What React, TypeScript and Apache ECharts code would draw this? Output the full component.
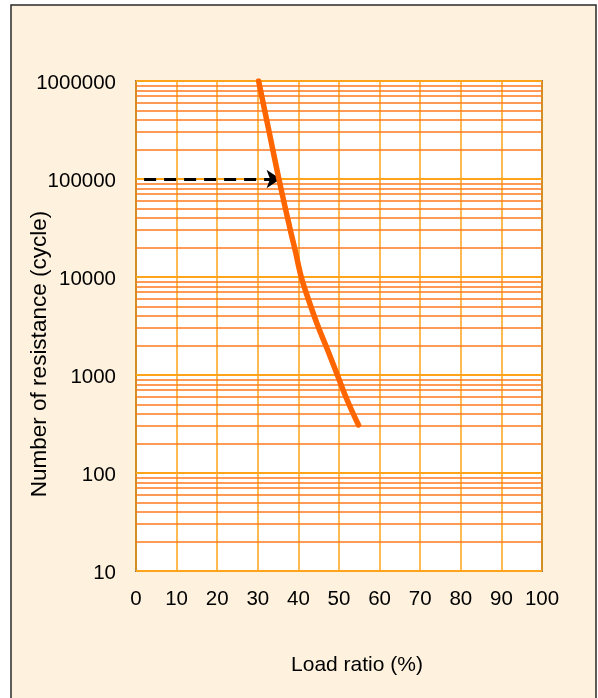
import React, { useEffect, useRef } from "react";
import * as echarts from "echarts";

const LOAD = [30.2, 32.7, 35.2, 37.9, 39.3, 40.7, 42.6, 44.8, 47.2, 49.6, 52.0, 54.8];
const CYCLES = [1000000, 316000, 100000, 31600, 18000, 10000, 5690, 3160, 1800, 1000, 556, 309];
const ARROW_FROM = [2, 100000];
const ARROW_TO = [35.6, 100000];
const DECADES = [10, 100, 1000, 10000, 100000];
const MINOR_FACTORS = [2, 3, 4, 5, 6, 7, 8, 9];
const X_TITLE = "Load ratio (%)";
const Y_TITLE = "Number of resistance (cycle)";

const FONT = "'Liberation Sans', Arial, sans-serif";

export default function App() {
  const ref = useRef<HTMLDivElement>(null);
  useEffect(() => {
    if (!ref.current) return;
    const chart = echarts.init(ref.current, null, { renderer: "svg" });
    const minorValues: number[] = [];
    DECADES.forEach((d) => MINOR_FACTORS.forEach((f) => minorValues.push(d * f)));
    chart.setOption({
      animation: false,
      graphic: [
        {
          type: "rect",
          z: -10,
          silent: true,
          shape: { x: 11, y: 5, width: 585, height: 700 },
          style: { fill: "#FEF2DE", stroke: "#2a2a2a", lineWidth: 1.5 },
        },
        {
          type: "text",
          x: 357,
          y: 663,
          style: {
            text: X_TITLE,
            font: `21px ${FONT}`,
            fill: "#000",
            align: "center",
            verticalAlign: "middle",
          },
        },
        {
          type: "text",
          x: 38,
          y: 354,
          rotation: Math.PI / 2,
          style: {
            text: Y_TITLE,
            font: `22.5px ${FONT}`,
            fill: "#000",
            align: "center",
            verticalAlign: "middle",
          },
        },
      ],
      grid: {
        left: 136,
        right: 56,
        top: 81,
        bottom: 127,
        show: true,
        backgroundColor: "#ffffff",
        borderColor: "#1a1a1a",
        borderWidth: 1.5,
      },
      xAxis: {
        type: "value",
        min: 0,
        max: 100,
        interval: 10,
        axisLine: { show: false },
        axisTick: { show: false },
        axisLabel: { color: "#000", fontSize: 20.5, fontFamily: FONT, margin: 16 },
        splitLine: { show: true, lineStyle: { color: "#FFA31A", width: 1.5 } },
      },
      yAxis: {
        type: "log",
        logBase: 10,
        min: 10,
        max: 1000000,
        axisLine: { show: false },
        axisTick: { show: false },
        axisLabel: {
          color: "#000",
          fontSize: 20.5,
          fontFamily: FONT,
          margin: 20,
          formatter: (v: number) => String(Math.round(v)),
        },
        splitLine: { show: true, lineStyle: { color: "#FFA31A", width: 2 } },
      },
      series: [
        {
          type: "line",
          data: [],
          silent: true,
          z: 1,
          markLine: {
            silent: true,
            symbol: ["none", "none"],
            label: { show: false },
            lineStyle: { color: "#FF7A1F", width: 1.5, type: "solid" },
            data: minorValues.map((v) => ({ yAxis: v })),
          },
        },
        {
          type: "line",
          data: LOAD.map((x, i) => [x, CYCLES[i]]),
          smooth: 0.4,
          showSymbol: false,
          z: 5,
          lineStyle: { color: "#FF6600", width: 5.5, cap: "round", join: "round" },
          itemStyle: { color: "#FF6600" },
        },
        {
          type: "line",
          data: [],
          z: 6,
          markLine: {
            silent: true,
            symbol: ["none", "arrow"],
            symbolSize: 14,
            label: { show: false },
            lineStyle: { color: "#000", width: 3, type: [12, 8] },
            data: [[{ coord: ARROW_FROM }, { coord: ARROW_TO }]],
          },
        },
      ],
    });
    return () => chart.dispose();
  }, []);
  return (
    <div
      ref={ref}
      style={{ position: "fixed", left: 0, top: 0, width: 598, height: 698 }}
    />
  );
}
